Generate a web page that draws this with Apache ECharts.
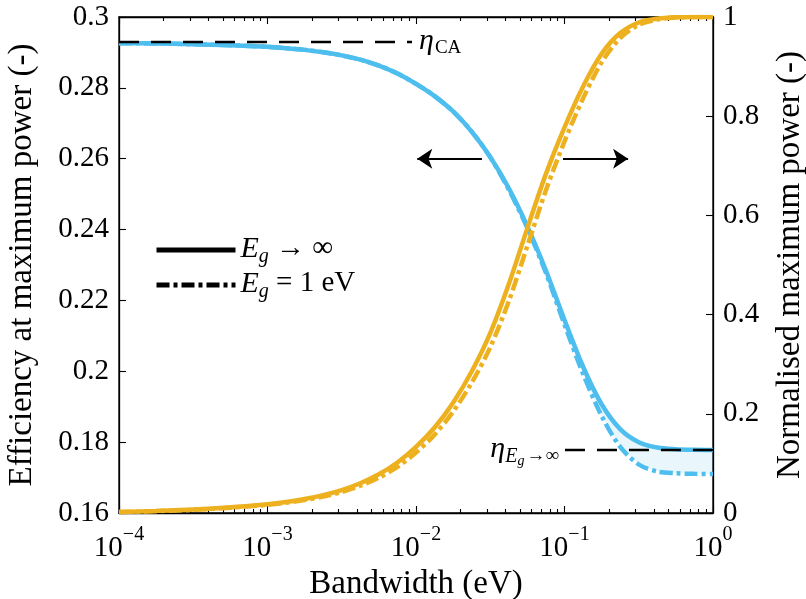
<!DOCTYPE html>
<html>
<head>
<meta charset="utf-8">
<script src="https://cdn.jsdelivr.net/npm/echarts@6/dist/echarts.min.js"></script>
<style>html,body{margin:0;padding:0;background:#fff}#c{width:806px;height:599px}</style>
</head>
<body>
<div id="c"></div>
<script>
// ---- data ----
const bandwidth = [1e-4, 1.778e-4, 3.162e-4, 5.623e-4, 1e-3, 1.334e-3, 1.778e-3, 2.371e-3, 3.162e-3, 4.217e-3, 5.623e-3, 7.499e-3, 0.01, 0.01334, 0.01778, 0.02371, 0.03162, 0.04217, 0.05623, 0.07499, 0.1, 0.1334, 0.1778, 0.2371, 0.3162, 0.4217, 0.5623, 0.7499, 1];
const effInf = [0.2926,0.29253,0.29232,0.29205,0.29157,0.2912,0.29072,0.29005,0.28916,0.28795,0.28629,0.28405,0.28112,0.27768,0.27334,0.26764,0.26051,0.25166,0.24091,0.22844,0.21449,0.20128,0.1907,0.18368,0.17999,0.1785,0.17802,0.17785,0.1778];
const eff1eV = [0.2926,0.29253,0.29232,0.29205,0.29157,0.2912,0.29072,0.29005,0.28916,0.28795,0.28629,0.28405,0.28112,0.27768,0.27334,0.26764,0.26041,0.25126,0.24041,0.22774,0.21319,0.19928,0.1874,0.17868,0.17369,0.1717,0.17122,0.17105,0.171];
const powInf = [0.002,0.0042,0.007,0.0114,0.0177,0.0222,0.0281,0.036,0.0463,0.06,0.078,0.1018,0.1332,0.1725,0.2225,0.2853,0.3626,0.4615,0.5744,0.6837,0.7776,0.86,0.9259,0.9676,0.9889,0.9966,0.9994,1.0,1.0];
const pow1eV = [0.002,0.0038,0.0064,0.0106,0.0165,0.0205,0.0259,0.0331,0.0424,0.0549,0.0712,0.0929,0.1217,0.158,0.2043,0.2626,0.3341,0.4272,0.5385,0.6508,0.7491,0.836,0.9085,0.9574,0.9842,0.9949,0.9988,0.9999,1.0];
const etaCA = 0.293;
const etaInf = 0.1778;
const etaCAEnd = 0.0094;
const etaInfStart = 0.1007;
const leftArrow = [[0.0278, 0.26], [0.0102, 0.26]];
const rightArrow = [[0.0977, 0.714], [0.268, 0.714]];
const legendNames = ['Eg → ∞', 'Eg = 1 eV'];
const xMajorTicks = [1e-4, 1e-3, 1e-2, 1e-1, 1];

// ---- styling ----
const BLUE = '#4DBEEE', YELLOW = '#EDB120';
const FONT = 'Liberation Serif';
const DASHDOT = [13, 4, 4, 4];
const minorTicks = [];
for (let d = -4; d < 0; d++) for (let k = 2; k <= 9; k++) minorTicks.push(+(k * Math.pow(10, d)).toPrecision(3));

const pairs = (ys) => bandwidth.map((x, i) => [x, ys[i]]);

const expLabel = (v) => {
  const e = Math.round(Math.log10(v));
  return '{b|10}{p|' + (e < 0 ? '−' + (-e) : e) + '}';
};
const mathRich = {
  e: {fontFamily: FONT, fontStyle: 'italic', fontSize: 30, lineHeight: 32, verticalAlign: 'top', color: '#000'},
  n: {fontFamily: FONT, fontSize: 29, lineHeight: 32, verticalAlign: 'top', color: '#000'},
  s: {fontFamily: FONT, fontSize: 19, lineHeight: 19, padding: [13, 0, 0, 1], verticalAlign: 'top', color: '#000'},
  si: {fontFamily: FONT, fontStyle: 'italic', fontSize: 20, lineHeight: 19, padding: [13, 0, 0, 0], verticalAlign: 'top', color: '#000'},
  ss: {fontFamily: FONT, fontStyle: 'italic', fontSize: 14, lineHeight: 12, padding: [20, 1, 0, 0], verticalAlign: 'top', color: '#000'}
};

function xAxisBase(pos, ticks, len, showLine) {
  return {
    type: 'log', logBase: 10, min: 1e-4, max: 1, position: pos, gridIndex: 0,
    axisLine: {show: showLine, onZero: false, lineStyle: {color: '#000', width: 1.3}},
    axisTick: {show: true, inside: true, length: len, customValues: ticks, lineStyle: {color: '#000', width: 1.1}},
    axisLabel: {show: false},
    splitLine: {show: false}, minorTick: {show: false}
  };
}

const xMain = xAxisBase('bottom', xMajorTicks, 7, true);
xMain.axisLabel = {
  show: true, margin: 12, customValues: xMajorTicks, formatter: expLabel,
  rich: {
    b: {fontFamily: FONT, fontSize: 29, lineHeight: 30, padding: [9, 0, 0, 0], verticalAlign: 'top', color: '#000'},
    p: {fontFamily: FONT, fontSize: 20, lineHeight: 20, verticalAlign: 'top', color: '#000'}
  }
};
xMain.name = 'Bandwidth (eV)';
xMain.nameLocation = 'middle';
xMain.nameGap = 48;
xMain.nameTextStyle = {fontFamily: FONT, fontSize: 33, color: '#000'};

const option = {
  animation: false,
  backgroundColor: '#fff',
  grid: {left: 119, right: 93, top: 17, bottom: 86, containLabel: false, outerBoundsMode: 'none',
    show: true, borderColor: '#000', borderWidth: 1.3, backgroundColor: 'transparent'},
  legend: {
    data: legendNames, orient: 'vertical', left: 149, top: 229, itemWidth: 79, itemHeight: 14, itemGap: 2,
    formatter: (n) => n === legendNames[0] ? '{e|E}{si|g}{n| → ∞}' : '{e|E}{si|g}{n| = 1 eV}',
    textStyle: {rich: mathRich},
    lineStyle: {width: 5},
    itemStyle: {opacity: 0},
    selectedMode: false
  },
  xAxis: [
    xMain,
    xAxisBase('bottom', minorTicks, 4, false),
    xAxisBase('top', xMajorTicks, 7, true),
    xAxisBase('top', minorTicks, 4, false)
  ],
  yAxis: [
    {
      type: 'value', min: 0.16, max: 0.3, interval: 0.02, position: 'left',
      name: 'Efficiency at maximum power (-)', nameLocation: 'middle', nameGap: 80,
      nameTextStyle: {fontFamily: FONT, fontSize: 33, color: '#000'},
      axisLine: {show: true, lineStyle: {color: '#000', width: 1.3}},
      axisTick: {show: true, inside: true, length: 7, lineStyle: {color: '#000', width: 1.1}},
      axisLabel: {margin: 10, fontFamily: FONT, fontSize: 29, color: '#000', formatter: (v) => String(+v.toFixed(2))},
      splitLine: {show: false}
    },
    {
      type: 'value', min: 0, max: 1, interval: 0.2, position: 'right',
      name: 'Normalised maximum power (-)', nameLocation: 'middle', nameGap: 61, nameRotate: 90,
      nameTextStyle: {fontFamily: FONT, fontSize: 33, color: '#000'},
      axisLine: {show: true, lineStyle: {color: '#000', width: 1.3}},
      axisTick: {show: true, inside: true, length: 7, lineStyle: {color: '#000', width: 1.1}},
      axisLabel: {margin: 10, fontFamily: FONT, fontSize: 29, color: '#000', formatter: (v) => String(+v.toFixed(1))},
      splitLine: {show: false}
    }
  ],
  series: [
    {
      type: 'custom', name: 'gapFill', silent: true, xAxisIndex: 0, yAxisIndex: 0, z: 1,
      data: bandwidth.map((x, i) => [x, eff1eV[i], effInf[i]]),
      encode: {x: 0, y: [1, 2]},
      renderItem: (params, api) => {
        if (params.dataIndex !== 0) return null;
        const upper = bandwidth.map((x, i) => api.coord([x, effInf[i]]));
        const lower = bandwidth.map((x, i) => api.coord([x, eff1eV[i]])).reverse();
        return {type: 'polygon', shape: {points: upper.concat(lower)}, style: {fill: 'rgba(77,190,238,0.12)'}};
      }
    },
    {type: 'line', name: 'effInf', data: pairs(effInf), symbol: 'none', smooth: 0.3, yAxisIndex: 0, z: 2,
      lineStyle: {color: BLUE, width: 4.5},
      markLine: {
        silent: true, symbol: ['none', 'none'], animation: false,
        lineStyle: {color: '#000', width: 2.4, type: [20, 12]},
        data: [
          [{coord: [1e-4, etaCA], label: {show: true, position: 'end', distance: 7, formatter: '{e|η}{s|CA}', rich: mathRich}}, {coord: [etaCAEnd, etaCA]}],
          [{coord: [etaInfStart, etaInf], label: {show: true, position: 'start', distance: 6, formatter: '{e|η}{si|E}{ss|g}{s|→∞}', rich: mathRich}}, {coord: [1, etaInf]}]
        ]
      }},
    {type: 'line', name: 'eff1eV', data: pairs(eff1eV), symbol: 'none', smooth: 0.3, yAxisIndex: 0, z: 2,
      lineStyle: {color: BLUE, width: 4.5, type: DASHDOT},
      markLine: {
        silent: true, symbol: ['none', 'arrow'], symbolSize: 15, animation: false,
        lineStyle: {color: '#000', width: 2, type: 'solid'}, label: {show: false},
        data: [[{coord: leftArrow[0]}, {coord: leftArrow[1]}]]
      }},
    {type: 'line', name: 'powInf', data: pairs(powInf), symbol: 'none', smooth: 0.3, yAxisIndex: 1, z: 3,
      lineStyle: {color: YELLOW, width: 4.5},
      markLine: {
        silent: true, symbol: ['none', 'arrow'], symbolSize: 15, animation: false,
        lineStyle: {color: '#000', width: 2, type: 'solid'}, label: {show: false},
        data: [[{coord: rightArrow[0]}, {coord: rightArrow[1]}]]
      }},
    {type: 'line', name: 'pow1eV', data: pairs(pow1eV), symbol: 'none', smooth: 0.3, yAxisIndex: 1, z: 3,
      lineStyle: {color: YELLOW, width: 4.5, type: DASHDOT}},
    {type: 'line', name: legendNames[0], data: [], symbol: 'none', showSymbol: false, color: '#000', lineStyle: {color: '#000', width: 5}},
    {type: 'line', name: legendNames[1], data: [], symbol: 'none', showSymbol: false, color: '#000', lineStyle: {color: '#000', width: 5, type: DASHDOT}}
  ]
};
const chart = echarts.init(document.getElementById('c'), null, {renderer: 'canvas'});
chart.setOption(option);
</script>
</body>
</html>
